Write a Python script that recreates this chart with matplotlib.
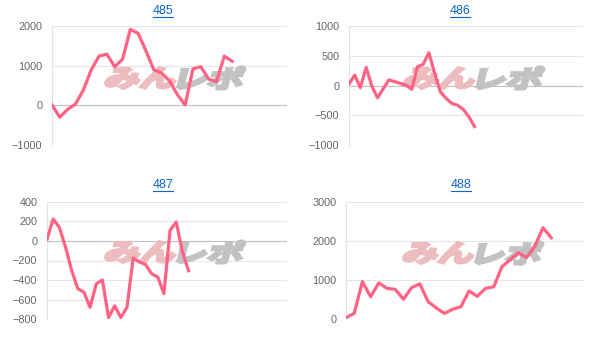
import numpy as np
import matplotlib
matplotlib.use("Agg")
import matplotlib.pyplot as plt
from matplotlib.textpath import TextPath
from matplotlib.patches import PathPatch
from matplotlib.font_manager import FontProperties
import matplotlib.transforms as mtransforms

# data
titles = ["485", "486", "487", "488"]

vals_485 = [10, -300, -100, 30, 385, 890, 1240, 1290, 975, 1160, 1915, 1815,
            1370, 895, 810, 620, 270, 10, 920, 975, 660, 600, 1240, 1110]
vals_486 = [25, 175, -35, 305, -10, -205, -55, 95, 65, 35, 5, -65,
            315, 355, 550, 205, -105, -215, -300, -330, -400, -525, -690]
vals_487 = [15, 225, 140, -60, -300, -490, -525, -680, -440, -400, -785, -665,
            -785, -680, -175, -215, -240, -335, -370, -540, 110, 195, -110, -305]
vals_488 = [35, 145, 960, 570, 925, 785, 760, 505, 805, 900, 445, 285, 145,
            250, 315, 720, 580, 785, 825, 1340, 1520, 1700, 1575, 1860, 2340, 2085]

n_labels = [31, 42, 40, 30]
yticks = [[-1000, 0, 1000, 2000],
          [-1000, -500, 0, 500, 1000],
          [-800, -600, -400, -200, 0, 200, 400],
          [0, 1000, 2000, 3000]]

series = [vals_485, vals_486, vals_487, vals_488]

W, H = 613, 348
fig = plt.figure(figsize=(W / 100, H / 100), dpi=100)

# axes boxes in pixels: left, right, top, bottom
boxes = [(52, 287, 26, 145), (349, 583, 26, 145),
         (47, 287, 202, 319), (346, 584, 202, 319)]
title_pos = [(163, 11), (460, 11), (163, 185), (461, 185)]
mark_pos = [(178, 78), (477, 78), (178, 252), (476, 253)]

line_col = "#ff6384"
font = "Liberation Sans"
jp = FontProperties(family="Noto Sans CJK JP", weight="bold")


def watermark(ax, cx, cy):
    # "みん" in pink, "レポ" in grey, squashed, heavy and slanted like the logo
    for txt, col, side in [("みん", "#ecbcbf", -1), ("レポ", "#c2c2c2", 1)]:
        tp = TextPath((0, 0), txt, size=1, prop=jp)
        ext = tp.get_extents()
        sx, sy = 36, 24
        w = ext.width * sx
        x0 = cx - w - 2 if side < 0 else cx + 2
        tr = (mtransforms.Affine2D().translate(-ext.x0, -ext.y0)
              .scale(sx, sy).skew_deg(14, 0)
              .translate(x0 - 3, H - cy - ext.height * sy / 2))
        ax.add_patch(PathPatch(tp, transform=tr, facecolor=col,
                               edgecolor=col, lw=2.2, joinstyle="miter",
                               zorder=1, clip_on=False))


for i in range(4):
    l, r, t, b = boxes[i]
    ax = fig.add_axes([l / W, 1 - b / H, (r - l) / W, (b - t) / H])
    ax.set_facecolor("none")
    y = series[i]
    x = np.arange(len(y))
    ax.plot(x, y, color=line_col, lw=2.3, solid_joinstyle="round", zorder=3)
    ax.set_xlim(0, n_labels[i] - 1)
    ax.set_ylim(yticks[i][0], yticks[i][-1])
    ax.set_yticks(yticks[i])
    ax.set_xticks([])
    for s in ["top", "right", "bottom"]:
        ax.spines[s].set_visible(False)
    ax.spines["left"].set_color("#e3e3e3")
    ax.spines["left"].set_linewidth(0.8)
    ax.tick_params(axis="y", length=0, pad=7, labelsize=7.8, labelcolor="#666666")
    for lab in ax.get_yticklabels():
        lab.set_fontfamily(font)
    ax.grid(axis="y", color="#e6e6e6", lw=0.8)
    ax.set_axisbelow(True)
    for loc, gl in zip(ax.get_yticks(), ax.get_ygridlines()):
        if loc == 0:
            gl.set_color("#c0c0c0")
    watermark(ax, *mark_pos[i])

    tx, ty = title_pos[i]
    fig.text(tx / W, 1 - ty / H, titles[i], ha="center", va="center",
             color="#0a66c8", fontsize=9, fontfamily=font)
    fig.add_artist(plt.Line2D([(tx - 10) / W, (tx + 10) / W],
                              [1 - (ty + 6) / H] * 2, color="#0a66c8", lw=0.8))

fig.savefig("out.png", dpi=100)
